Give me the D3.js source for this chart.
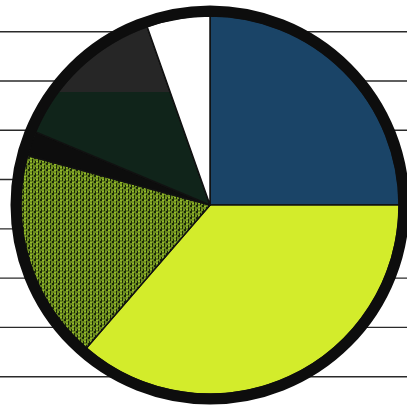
<!DOCTYPE html>
<html>
<head>
<meta charset="utf-8">
<script src="https://cdn.jsdelivr.net/npm/d3@7"></script>
<style>
  html, body { margin: 0; padding: 0; background: #fff; }
  svg { display: block; }
</style>
</head>
<body>
<div id="chart"></div>
<script>
// ---- data ----
const categories = ["Segment A", "Segment B", "Segment C", "Segment D", "Segment E", "Segment F"];
const values = [25.0, 36.4, 17.9, 2.1, 13.3, 5.4];
const fills = ["#1a4467", "#d3ec2b", "url(#maze)", "#0d0d0d", "url(#dark)", "#ffffff"];
const ruleLines = [0, 1, 2, 3, 4, 5, 6, 7];

const W = 407, H = 407;
const cx = 210, cy = 205;
const rInner = 189, ringR = 194, ringW = 11;

const svg = d3.select("#chart").append("svg")
  .attr("width", W).attr("height", H);

const defs = svg.append("defs");
// textured (maze-like) green
const pat = defs.append("pattern").attr("id", "maze")
  .attr("patternUnits", "userSpaceOnUse").attr("width", 6).attr("height", 6);
pat.append("rect").attr("width", 6).attr("height", 6).attr("fill", "#1a280a");
pat.append("path").attr("d", "M0,1 H4 M1,1 V5 M3,3 H6 M4,4 V6 M0,5 H2")
  .attr("stroke", "#b4e232").attr("stroke-width", 1.2).attr("fill", "none");
// two-tone dark slice (coords in the translated group's space)
const grad = defs.append("linearGradient").attr("id", "dark")
  .attr("gradientUnits", "userSpaceOnUse")
  .attr("x1", 0).attr("y1", -cy).attr("x2", 0).attr("y2", H - cy);
grad.append("stop").attr("offset", 0.225).attr("stop-color", "#262626");
grad.append("stop").attr("offset", 0.225).attr("stop-color", "#10241a");
grad.append("stop").attr("offset", 1).attr("stop-color", "#10241a");

// horizontal ruled lines in background
const y = d3.scaleLinear().domain([0, 7]).range([31.7, 376.7]);
svg.append("g").selectAll("line").data(ruleLines).join("line")
  .attr("x1", 0).attr("x2", W)
  .attr("y1", d => y(d)).attr("y2", d => y(d))
  .attr("stroke", "#2a2a2a").attr("stroke-width", 1.4);

const pie = d3.pie().sort(null).value(d => d)
  .startAngle(0).endAngle(2 * Math.PI);
const arc = d3.arc().innerRadius(0).outerRadius(rInner);

const g = svg.append("g").attr("transform", `translate(${cx},${cy})`);

// white disc behind
g.append("circle").attr("r", ringR).attr("fill", "#fff");

g.selectAll("path.slice").data(pie(values)).join("path")
  .attr("class", "slice")
  .attr("d", arc)
  .attr("fill", (d, i) => fills[i])
  .attr("stroke", "#111")
  .attr("stroke-width", 1.5)
  .attr("stroke-linejoin", "round");

// heavy black rim
g.append("circle").attr("r", ringR)
  .attr("fill", "none").attr("stroke", "#0d0d0d").attr("stroke-width", ringW);
</script>
</body>
</html>
